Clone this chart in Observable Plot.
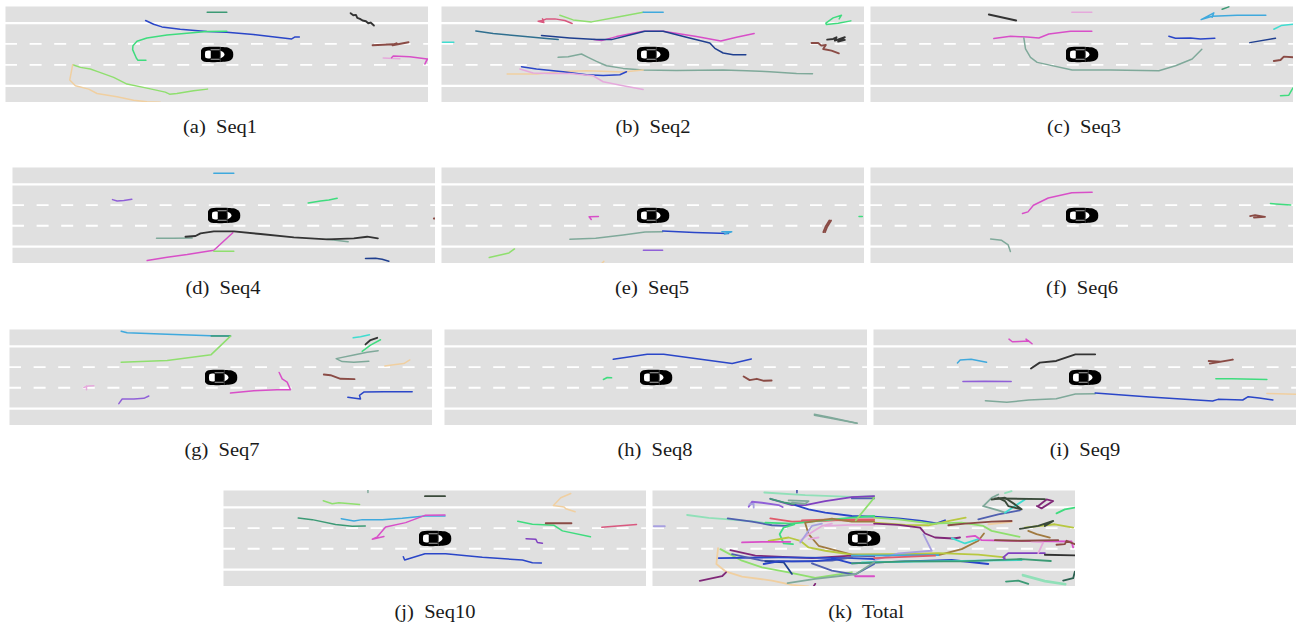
<!DOCTYPE html>
<html><head><meta charset="utf-8">
<script src="https://cdn.jsdelivr.net/npm/d3@7"></script>
<script src="https://cdn.jsdelivr.net/npm/@observablehq/plot@0.6"></script>
<style>
html,body{margin:0;padding:0;background:#fff}
#page{position:relative;width:1296px;height:627px;overflow:hidden}
.panel{position:absolute}
.panel svg{display:block;filter:blur(.35px)}
.cap{position:absolute;transform:translate(-50%,-50%) scaleX(1.14);font-family:"Liberation Serif",serif;font-size:18px;white-space:pre;color:#1a1a1a}
</style></head><body><div id="page"></div>
<script>
// Track colour classes
const kinds = ["blue","navy","sky","cyan","green","mint","lime","teal","grey","black","brown","rose","magenta","pink","purple","violet","tan","olive","ochre","plum","slate","dark","lavender","steel","red","dteal"];
const kindColors = ["#2a46c8","#1f3f8f","#3fa9dd","#3fdcd0","#3fdc7e","#90e0b8","#8fdf6e","#3c9a75","#7fa99a","#333333","#8a4b45","#d9587f","#d84fc8","#e5a9dc","#9060d8","#8040c0","#f0cfa0","#b8c840","#a07a40","#802878","#5060b0","#3a4a3a","#a8a0e0","#2f6f8f","#e05a6a","#2a6050"];
const heavyKinds = ["brown","black","dark"];

// Trajectories, [kind, x,y, x,y, ...]
const seq1 = [
 ["teal",621,35,680,35],
 ["blue",436,60,460,71,485,79,540,86,620,93,680,95,760,102,830,110,875,115,885,109,898,109],
 ["green",680,92,620,93,560,98,500,103,440,112,410,122,398,135,397,147,408,172,413,179,437,179],
 ["black",1052,38,1060,44,1068,43,1072,52,1080,55,1088,60,1098,62,1105,68,1112,66,1122,75],
 ["brown",1118,134,1180,131,1190,128,1178,134,1226,125],
 ["pink",1150,172,1200,174],
 ["magenta",1175,171,1180,166,1230,168,1282,175,1275,190,1283,175],
 ["lime",622,265,580,270,530,278,508,280,495,274,440,262,380,250,340,230,290,212,270,205,240,200,217,192],
 ["tan",217,192,208,238,225,255,265,265,290,278,350,288,400,298,440,303,480,304]
];
const seq2 = [
 ["cyan",18,125,52,125],
 ["rose",407,69,385,60,355,55,330,55,318,60,305,62,322,66,318,55],
 ["lime",370,44,410,58,465,64,540,50,620,35],
 ["sky",620,35,680,35],
 ["green",1243,61,1205,68,1170,72,1168,68,1190,52,1215,44,1208,55],
 ["black",1172,117,1190,115,1200,110,1195,120,1225,110,1205,123,1225,118],
 ["brown",1125,127,1145,127,1155,135,1168,133,1160,145,1185,150,1207,158],
 ["steel",118,91,170,99,250,106,330,114,365,117],
 ["magenta",953,99,900,110,853,121,780,108,680,92,620,92,540,108,495,120,472,117],
 ["navy",315,105,400,112,480,117,525,117,580,103,625,92,680,92,750,110,820,127,835,143,860,157,890,162,928,162],
 ["grey",365,170,395,168,435,160,455,170,480,182,510,195,560,203,620,208,720,209,860,208,930,210,1000,213,1080,218,1128,219],
 ["tan",212,220,300,220,380,212,450,210,560,214,620,208],
 ["blue",255,198,300,205,380,213,450,222,500,224,550,222,570,213],
 ["pink",250,205,290,217,340,218,400,218,470,225,500,243,560,255,620,266]
];
const seq3 = [
 ["black",385,42,467,60],
 ["pink",634,35,694,35],
 ["teal",1085,26,1105,19],
 ["sky",1216,44,1130,44,1055,47,1022,57,1060,37,1055,50],
 ["cyan",1240,86,1262,75,1299,71],
 ["navy",1168,126,1245,113],
 ["brown",1240,181,1260,178,1270,168,1299,170],
 ["green",1260,285,1285,283,1297,262],
 ["magenta",400,114,450,107,500,109,535,112,565,100,630,92,694,92],
 ["blue",925,107,945,113,990,112,1020,115,1063,113],
 ["grey",490,112,495,145,510,170,530,185,635,208,750,208,895,210,945,195,995,175,1024,146]
];
const seq4 = [
 ["sky",640,38,700,38],
 ["purple",336,118,350,122,370,121,394,117],
 ["green",923,128,960,122,985,119,1010,114],
 ["grey",468,235,520,235,575,234],
 ["grey",980,238,1043,245],
 ["black",555,230,585,228,600,220,640,214,700,214,780,222,880,232,980,238,1060,235,1100,230,1132,235],
 ["magenta",440,302,500,292,560,284,640,271,697,218],
 ["lime",640,274,700,274],
 ["navy",1095,296,1125,295,1145,298,1165,304],
 ["brown",1300,175,1305,175]
];
const seq5 = [
 ["magenta",295,169,278,170,282,178],
 ["green",770,169,776,169],
 ["brown",719,181,712,200,708,216],
 ["brown",716,181,709,200,705,216],
 ["grey",243,238,290,235,340,225,380,216,412,215],
 ["blue",412,213,470,217,532,220],
 ["sky",520,215,538,215,525,222],
 ["purple",377,271,412,271],
 ["lime",96,293,132,279,142,267],
 ["tan",301,311,305,304]
];
const seq6 = [
 ["magenta",1195,96,1158,97,1115,113,1088,135,1078,155,1068,160],
 ["green",1520,130,1530,131,1557,134],
 ["brown",1483,168,1492,165,1510,170,1490,172],
 ["grey",1010,237,1030,241,1042,255,1046,275]
];
const seq7 = [
 ["sky",362,26,380,31,500,35,630,40,690,41],
 ["teal",632,41,690,41],
 ["lime",362,120,500,115,632,97,690,41],
 ["pink",250,196,262,192,280,191],
 ["pink",258,192,258,203],
 ["purple",355,245,365,231,400,231,430,229,445,222],
 ["magenta",690,213,760,206,830,203,870,203,860,180,845,170,836,151],
 ["cyan",1058,46,1080,43,1107,37],
 ["black",1095,66,1110,53,1130,46],
 ["green",1085,87,1110,68,1140,52],
 ["grey",1133,85,1100,90,1060,98,1007,109,1025,118,1060,120,1105,117],
 ["tan",1153,131,1185,127,1210,124,1228,113],
 ["brown",970,157,990,159,1020,170,1062,171],
 ["blue",1042,226,1080,231,1077,220,1090,210,1150,209,1235,209]
];
const seq8 = [
 ["blue",323,111,385,96,415,96,540,124,575,110],
 ["green",305,172,312,166,320,167],
 ["brown",561,163,572,174,585,170,598,176,612,175],
 ["grey",690,277,720,287,768,304],
 ["grey",690,280,722,290,768,304]
];
const seq9 = [
 ["magenta",1044,50,1050,58,1080,56,1086,64,1075,50],
 ["sky",950,122,955,113,975,111,1003,120],
 ["black",1084,139,1100,121,1130,116,1165,96,1201,96],
 ["brown",1408,116,1430,118,1452,112,1410,124],
 ["green",1421,170,1450,170,1514,172],
 ["purple",960,178,1000,177,1048,178],
 ["grey",1001,236,1040,241,1080,234,1130,230,1165,216,1201,215],
 ["blue",1201,213,1300,225,1415,237,1425,232,1470,234,1480,224,1500,228,1525,234],
 ["tan",1514,214,1568,217]
];
const seq10 = [
 ["grey",457,18,457,24],
 ["dark",628,35,688,35],
 ["lime",323,49,350,58,370,55,432,60],
 ["teal",248,101,290,106,360,121,410,126,449,125],
 ["sky",377,103,415,110,440,106,500,106,560,102,628,95,688,95],
 ["magenta",688,92,628,93,570,115,510,128,485,158,470,165,505,157],
 ["blue",563,218,567,228,628,209,690,209,800,220,920,228,950,236,977,237],
 ["tan",1065,27,1035,40,1013,63,1045,68,1050,73,1078,82],
 ["green",906,111,950,120,1015,123,1040,140,1124,158],
 ["brown",990,117,1067,117],
 ["rose",1158,129,1195,126,1262,121],
 ["violet",931,164,960,165,965,175,980,177]
];
const total = [
 ["pink",540,125,620,122,687,122],
 ["mint",357,24,480,32,620,37,687,35],
 ["slate",620,42,687,42],
 ["grey",620,38,687,38],
 ["violet",375,43,440,62,480,62,540,50,620,38,687,35],
 ["teal",375,43,420,55,450,60],
 ["grey",430,48,490,50,480,58,440,55],
 ["purple",310,67,320,52,350,55,400,62,412,68],
 ["lavender",312,60,325,58,325,70],
 ["blue",450,62,490,75,540,85,620,95,687,97,760,102,830,110,875,117,900,108],
 ["mint",125,92,190,101,250,105,330,112,370,118],
 ["slate",247,102,320,112,380,123,420,125,447,118],
 ["red",375,102,440,112,540,110,620,105,687,105],
 ["red",470,108,540,106,620,110,687,110],
 ["green",360,115,440,118,520,110,620,100,687,95],
 ["ochre",480,115,560,103,620,112,687,112],
 ["olive",687,115,780,122,850,123,920,108,962,100],
 ["slate",1000,105,1060,90,1125,78],
 ["lime",687,100,760,105,860,118,950,115,1015,125,1040,140,1124,158],
 ["plum",687,118,760,122,825,130,840,148,870,160,925,163,945,160],
 ["brown",910,123,960,118,1040,112,1100,110],
 ["tan",1030,120,1100,113],
 ["lime",687,40,632,108],
 ["green",447,120,415,130,403,150,415,178,443,180],
 ["ochre",480,117,490,150,520,185,620,212,700,212,880,213,950,195,1000,170,1017,148],
 ["olive",465,170,490,190,540,200,620,212,760,210,880,207,1000,212,1080,220],
 ["olive",370,170,430,160,465,170],
 ["magenta",290,175,350,173,435,173],
 ["pink",465,170,490,150,530,125,560,118],
 ["pink",490,165,520,160],
 ["lavender",465,175,500,125,530,118],
 ["lavender",687,228,760,208,860,200,835,150],
 ["cyan",920,162,960,178,1000,165],
 ["magenta",965,158,990,155,1010,168,1100,170,1280,172,1285,190],
 ["brown",1050,168,1130,170,1240,168],
 ["grey",1015,65,1040,40,1060,30],
 ["grey",1015,65,1060,78,1080,85],
 ["dark",1040,45,1080,40,1110,60,1130,75,1090,65,1080,50,1060,40],
 ["dark",1050,42,1200,44],
 ["cyan",1080,85,1140,45],
 ["plum",1176,65,1190,72,1225,50,1205,45,1180,65],
 ["green",1235,87,1260,75,1290,70],
 ["mint",1080,26,1100,20],
 ["dark",1125,134,1180,125,1225,110,1200,125],
 ["olive",1140,130,1230,120,1285,130],
 ["ochre",1150,140,1175,150,1215,160],
 ["tan",218,192,213,240,240,262,290,278,380,290,440,303,490,308],
 ["lime",225,195,290,230,350,250,430,265,510,282,620,265],
 ["plum",163,291,230,277,242,265],
 ["plum",255,198,330,215,500,222,620,215,687,217],
 ["blue",220,222,400,220,620,222,687,225],
 ["slate",260,210,350,230,440,232,560,230,620,220],
 ["navy",360,232,415,235,440,270],
 ["blue",355,240,400,232,500,232,570,225],
 ["sky",620,215,880,213],
 ["red",687,222,870,215],
 ["blue",560,222,620,238,780,232,920,228,1030,240],
 ["cyan",650,235,1000,230,1130,228],
 ["teal",620,238,780,232,950,232,1130,225,1218,231],
 ["slate",500,238,560,260,630,272,687,240],
 ["grey",630,272,687,235],
 ["grey",427,298,510,285,630,271],
 ["magenta",630,277,687,277],
 ["violet",1080,225,1075,220,1090,207,1200,207],
 ["black",1200,212,1290,214],
 ["pink",1180,207,1195,175,1160,172],
 ["mint",1133,272,1200,290,1262,300],
 ["mint",1133,275,1200,293,1262,302],
 ["teal",1083,293,1120,290,1150,300],
 ["dteal",1255,290,1285,283,1290,263],
 ["lavender",25,126,58,126],
 ["plum",505,308,510,300],
 ["slate",455,18,455,24],
 ["brown",1235,182,1260,180,1265,170,1290,180]
];

const captions = ["(a)  Seq1","(b)  Seq2","(c)  Seq3","(d)  Seq4","(e)  Seq5","(f)  Seq6","(g)  Seq7","(h)  Seq8","(i)  Seq9","(j)  Seq10","(k)  Total"];
const tracks = [seq1,seq2,seq3,seq4,seq5,seq6,seq7,seq8,seq9,seq10,total];
// reading window of each picture: x from, x to, y from, y to
const windows = [[15,1286,18,305],[15,1284,18,305],[30,1299,18,305],[36,1305,21,311],[9,780,21,311],[791,1562,21,311],[27,1296,21,311],[15,787,21,311],[797,1568,21,311],[24,1292,18,308],[21,1292,18,308]];
// where each picture sits on the page
const slots = [[5,6],[441,6],[870,6],[12,167],[441,167],[870,167],[9,329],[444,329],[873,329],[223,490],[652,490]];
const capAt = [[220,127],[653,127],[1084,127],[223,288],[652,288],[1082,288],[222,450],[655,450],[1085,450],[435,612],[866,612]];
const solidLanes = [-94,94], dashedLanes = [-31.5,31];

const carSvg = `<svg xmlns="http://www.w3.org/2000/svg" viewBox="0 0 100 46"><path d="M12 1C32 -1 72 -1 86 3C96 7 100 15 100 23C100 31 96 39 86 43C72 47 32 47 12 45C2 43 0 33 0 23C0 13 2 3 12 1Z" fill="#000"/><path d="M15 13C20 10 26 10 31 12L31 34C26 36 20 36 15 33C13 27 13 19 15 13Z" fill="#fff"/><path d="M58 11C67 13 72 18 73 23C72 28 67 33 58 35C61 27 61 19 58 11Z" fill="#fff"/><path d="M30 7H60L56 10H32ZM30 39H60L56 36H32Z" fill="#aaa"/><path d="M60 0V46" stroke="#444" stroke-width="2.5"/></svg>`;
const carSrc = "data:image/svg+xml;utf8," + encodeURIComponent(carSvg);

const page = document.getElementById("page");
tracks.forEach((list,i)=>{
  const [x0,x1,y0,y1] = windows[i];
  const cx=(x0+x1)/2, cy=(y0+y1)/2;
  const rows = list.flatMap((t,j)=>{
    const out=[];
    for(let k=1;k<t.length;k+=2) out.push({x:t[k],y:t[k+1],id:j,kind:"class "+t[0],heavy:heavyKinds.includes(t[0])});
    return out;
  });
  const lw = list===total ? 1.8 : 1.5;
  const chart = Plot.plot({
    width:423,height:96,margin:0,
    x:{domain:[x0,x1],axis:null},
    y:{domain:[y1,y0],axis:null},
    color:{domain:kinds.map(k=>"class "+k),range:kindColors},
    marks:[
      Plot.frame({fill:"#e0e0e0",stroke:null}),
      Plot.ruleY(solidLanes.map(d=>cy+d),{stroke:"#fff",strokeWidth:2.2}),
      Plot.ruleY(dashedLanes.map(d=>cy+d),{stroke:"#fff",strokeWidth:1.8,strokeDasharray:"12 12.6"}),
      Plot.line(rows.filter(d=>!d.heavy),{x:"x",y:"y",z:"id",stroke:"kind",strokeWidth:lw,clip:true}),
      Plot.line(rows.filter(d=>d.heavy),{x:"x",y:"y",z:"id",stroke:"kind",strokeWidth:1.9,clip:true}),
      Plot.image([{x:cx,y:cy}],{x:"x",y:"y",width:33,height:17,src:()=>carSrc})
    ]
  });
  const div=document.createElement("div");
  div.className="panel";
  div.style.left=slots[i][0]+"px"; div.style.top=slots[i][1]+"px";
  div.appendChild(chart); page.appendChild(div);
  const c=document.createElement("div");
  c.className="cap"; c.textContent=captions[i];
  c.style.left=capAt[i][0]+"px"; c.style.top=capAt[i][1]+"px";
  page.appendChild(c);
});
</script></body></html>
